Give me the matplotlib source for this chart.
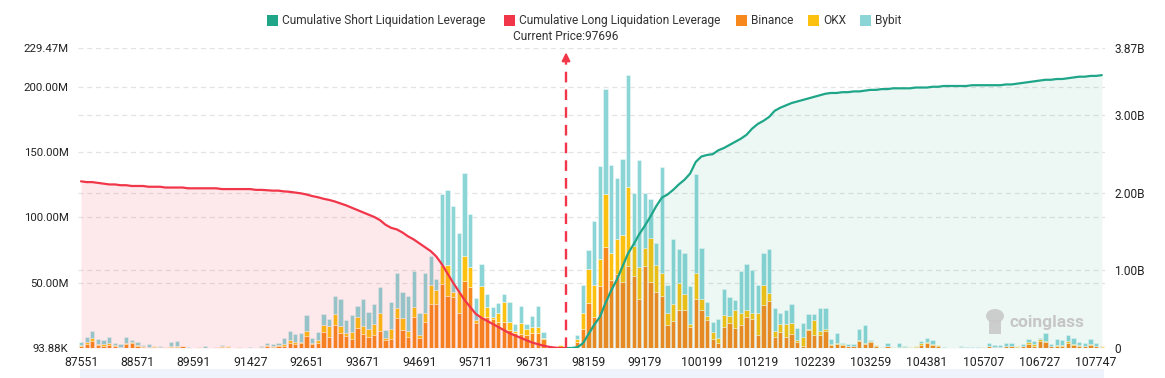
import matplotlib
matplotlib.use("Agg")
import matplotlib.pyplot as plt
from matplotlib.patches import Rectangle, Ellipse

plt.rcParams['font.family'] = ['Roboto', 'DejaVu Sans']

# ---------------- data ----------------
tick_labels = ["87551", "88571", "89591", "91427", "92651", "93671", "94691", "95711",
               "96731", "98159", "99179", "100199", "101219", "102239", "103259",
               "104381", "105707", "106727", "107747"]
current_price = 97696
current_index = 86

# liquidation per price bin, millions USD
binance = [1.5, 3.3, 5.4, 2.3, 2.0, 2.6, 2.0, 0.8, 3.1, 4.1,
           1.5, 1.0, 0.5, 1.0, 0.8, 0.7, 1.0, 1.0, 1.8, 0.3,
           0.1, 0.5, 0.2, 0.1, 0.7, 1.0, 1.0, 0.1, 0.5, 0.1,
           0.2, 0.05, 0.3, 2.0, 1.0, 2.0, 1.8, 4.1, 2.8, 3.6,
           9.4, 3.3, 4.1, 12.5, 8.7, 17.9, 11.7, 9.4, 6.6, 15.6,
           11.0, 8.7, 9.9, 13.3, 6.1, 6.6, 23.0, 13.8, 8.7, 24.0,
           7.4, 20.2, 33.4, 33.7, 49.0, 39.8, 39.3, 27.0, 51.3, 46.9,
           18.9, 24.0, 24.0, 21.9, 20.2, 20.2, 13.8, 11.2, 10.7, 9.9,
           11.7, 11.7, 6.6, 0.8, 0.3, 1.0, 0.0, 0.0, 4.6, 14.8,
           34.2, 24.0, 47.4, 77.3, 52.0, 56.4, 50.5, 62.8, 55.0, 37.2,
           62.8, 50.5, 42.9, 39.8, 18.0, 20.7, 29.0, 29.0, 16.0, 37.2,
           29.0, 21.4, 7.0, 3.6, 16.0, 18.9, 15.6, 18.0, 24.0, 22.0,
           9.7, 32.9, 36.0, 8.4, 12.2, 8.4, 10.5, 4.6, 1.5, 13.8,
           10.0, 10.0, 13.0, 2.3, 2.8, 2.3, 1.5, 1.5, 5.1, 3.3,
           4.8, 2.0, 0.8, 1.5, 0.5, 0.3, 0.4, 0.3, 1.2, 2.3,
           4.1, 2.3, 1.8, 0.2, 0.1, 0.1, 0.8, 0.2, 0.1, 0.1,
           0.8, 1.3, 0.5, 0.5, 1.5, 1.5, 1.0, 1.3, 3.3, 2.0,
           5.1, 4.3, 1.5, 1.8, 2.0, 3.8, 2.3, 1.5, 1.5, 2.3,
           1.5, 1.0]
okx = [1.0, 1.3, 2.0, 1.0, 0.8, 1.5, 0.5, 0.2, 1.0, 0.8,
       0.8, 0.3, 0.3, 0.3, 0.3, 0.1, 0.5, 0.4, 0.2, 0.1,
       0.0, 0.1, 0.1, 0.05, 0.4, 0.3, 0.4, 0.05, 0.1, 0.05,
       0.2, 0.05, 0.2, 0.3, 0.5, 0.5, 1.0, 2.0, 2.0, 1.3,
       3.6, 0.8, 2.0, 5.4, 8.4, 8.2, 5.1, 1.8, 6.1, 7.9,
       6.1, 5.6, 8.9, 13.3, 1.8, 7.7, 7.9, 8.9, 4.1, 7.7,
       2.6, 6.4, 14.8, 10.9, 14.5, 23.7, 3.8, 16.1, 19.4, 14.8,
       2.6, 23.7, 7.7, 2.0, 6.9, 14.8, 6.4, 2.0, 8.2, 4.6,
       4.1, 4.1, 1.5, 0.5, 0.6, 1.5, 0.0, 0.0, 2.6, 12.2,
       26.0, 24.2, 21.0, 40.3, 21.0, 26.8, 36.0, 60.7, 23.0, 25.0,
       14.0, 34.0, 20.7, 17.3, 9.0, 12.8, 21.0, 12.0, 2.8, 20.4,
       8.7, 3.0, 5.0, 4.0, 9.0, 5.6, 13.5, 9.0, 5.0, 5.0,
       16.8, 15.0, 6.4, 4.6, 5.9, 9.7, 8.4, 1.3, 6.9, 1.0,
       11.5, 3.0, 1.8, 1.0, 0.8, 0.8, 0.3, 0.2, 0.8, 0.8,
       0.5, 0.3, 0.2, 0.5, 0.2, 0.3, 0.3, 0.2, 0.6, 1.3,
       0.8, 0.5, 0.3, 0.1, 0.1, 0.1, 0.2, 0.2, 0.2, 0.1,
       0.1, 0.3, 0.3, 0.3, 0.3, 0.5, 0.3, 0.5, 1.5, 1.0,
       2.0, 0.8, 0.3, 0.5, 0.5, 1.3, 1.0, 0.8, 0.5, 0.8,
       0.3, 0.3]
bybit = [2.3, 3.8, 5.6, 3.3, 3.1, 4.3, 1.5, 2.1, 4.1, 1.0,
         2.6, 1.3, 2.0, 0.7, 0.5, 0.0, 2.8, 3.7, 0.0, 0.1,
         0.1, 0.0, 1.1, 0.05, 0.1, 1.3, 0.4, 0.1, 0.1, 0.1,
         0.7, 0.05, 1.5, 1.8, 1.6, 1.3, 4.6, 7.1, 5.9, 6.9,
         12.0, 3.3, 6.4, 7.9, 4.8, 13.8, 20.4, 10.2, 13.0, 8.7,
         20.4, 13.3, 15.3, 20.4, 6.1, 20.7, 26.3, 20.4, 26.8, 27.3,
         16.8, 30.9, 22.4, 8.2, 54.3, 57.4, 65.6, 45.2, 63.0, 40.6,
         17.1, 16.3, 9.4, 7.7, 7.7, 6.1, 14.8, 5.1, 13.3, 4.3,
         8.9, 16.3, 4.3, 0.2, 0.0, 0.0, 0.0, 0.0, 2.6, 21.0,
         14.8, 48.7, 71.0, 80.9, 67.3, 47.0, 58.4, 85.2, 40.8, 81.6,
         42.0, 29.8, 17.0, 81.6, 21.0, 50.3, 25.5, 31.4, 28.6, 75.3,
         38.5, 10.7, 7.7, 14.3, 20.4, 14.8, 7.7, 32.0, 35.0, 32.7,
         21.4, 24.5, 33.2, 17.9, 8.9, 10.7, 15.0, 9.7, 10.5, 11.0,
         4.3, 17.9, 16.0, 3.8, 7.6, 0.7, 1.5, 1.1, 8.9, 13.2,
         0.8, 0.2, 0.0, 1.6, 0.1, 3.0, 0.8, 0.3, 0.2, 1.5,
         3.0, 3.1, 0.2, 0.2, 0.1, 0.2, 0.3, 0.1, 0.2, 0.3,
         0.1, 2.5, 1.5, 1.5, 1.8, 1.8, 0.2, 1.5, 2.3, 2.4,
         0.8, 6.6, 1.5, 4.3, 3.6, 4.6, 4.1, 2.3, 2.1, 3.5,
         1.8, 0.7]

# cumulative leverage, billions USD
long_cum = [2.15, 2.14, 2.14, 2.13, 2.12, 2.11, 2.11, 2.10, 2.10, 2.09,
            2.09, 2.09, 2.08, 2.08, 2.08, 2.07, 2.07, 2.07, 2.07, 2.06,
            2.06, 2.06, 2.06, 2.06, 2.06, 2.05, 2.05, 2.05, 2.05, 2.05,
            2.05, 2.04, 2.04, 2.035, 2.03, 2.03, 2.02, 2.015, 2.005, 1.995,
            1.98, 1.96, 1.945, 1.925, 1.91, 1.89, 1.865, 1.84, 1.81, 1.78,
            1.75, 1.72, 1.69, 1.65, 1.59, 1.55, 1.53, 1.49, 1.44, 1.40,
            1.35, 1.30, 1.25, 1.18, 1.08, 0.96, 0.84, 0.73, 0.62, 0.53,
            0.44, 0.39, 0.35, 0.31, 0.27, 0.23, 0.19, 0.16, 0.13, 0.10,
            0.07, 0.05, 0.03, 0.015, 0.005, 0.0, 0.0]
short_cum = [0.0, 0.0, 0.01, 0.06,
             0.18, 0.30, 0.40, 0.58, 0.74, 0.88, 1.05, 1.22, 1.34, 1.47,
             1.58, 1.70, 1.83, 1.94, 1.98, 2.04, 2.11, 2.17, 2.25, 2.40,
             2.47, 2.49, 2.50, 2.55, 2.58, 2.62, 2.66, 2.70, 2.75, 2.83,
             2.89, 2.93, 2.98, 3.06, 3.10, 3.13, 3.16, 3.18, 3.20, 3.22,
             3.24, 3.26, 3.28, 3.29, 3.29, 3.30, 3.30, 3.31, 3.31, 3.32,
             3.33, 3.33, 3.34, 3.34, 3.35, 3.35, 3.35, 3.35, 3.36, 3.36,
             3.36, 3.37, 3.37, 3.38, 3.38, 3.38, 3.38, 3.38, 3.39, 3.39,
             3.39, 3.39, 3.39, 3.39, 3.40, 3.40, 3.41, 3.42, 3.43, 3.44,
             3.45, 3.46, 3.46, 3.47, 3.47, 3.48, 3.49, 3.50, 3.50, 3.51,
             3.51, 3.52]

left_ticks = [0.09388, 50, 100, 150, 200, 229.47]
left_tick_labels = ["93.88K", "50.00M", "100.00M", "150.00M", "200.00M", "229.47M"]
right_ticks = [0, 1, 2, 3, 3.87]
right_tick_labels = ["0", "1.00B", "2.00B", "3.00B", "3.87B"]

# ---------------- style ----------------
C_SHORT = "#1fa688"
C_LONG = "#f2364a"
C_BIN = "#f7891c"
C_OKX = "#fcc10f"
C_BYB = "#8bd5d7"
TXT = "#333333"

W, H = 1165, 378
fig = plt.figure(figsize=(W / 100, H / 100), dpi=100)
x0, x1, ytop, ybot = 78.2, 1104.6, 48, 348
ax = fig.add_axes([x0 / W, (H - ybot) / H, (x1 - x0) / W, (ybot - ytop) / H])
ax2 = ax.twinx()

n = len(binance)
xs = list(range(n))
ax.set_xlim(-0.5, n - 0.5)
lmin, lmax = left_ticks[0], left_ticks[-1]
rmax = right_ticks[-1]
ax.set_ylim(lmin, lmax)
ax2.set_ylim(0, rmax)

# grid lines (both axes) behind bars
for v in left_ticks[1:]:
    ax.axhline(v, color="#e3e3e3", lw=0.9, ls=(0, (4, 3)), zorder=0)
for v in right_ticks[1:-1]:
    ax.axhline(lmin + v * (lmax - lmin) / rmax, color="#e3e3e3", lw=0.9, ls=(0, (4, 3)), zorder=0)

bw = 0.76
ec = (1, 1, 1, 0.55)
bot2 = [a + b for a, b in zip(binance, okx)]
ax.bar(xs, binance, width=bw, color=C_BIN, edgecolor=ec, linewidth=0.5, zorder=2)
ax.bar(xs, okx, bottom=binance, width=bw, color=C_OKX, edgecolor=ec, linewidth=0.5, zorder=2)
ax.bar(xs, bybit, bottom=bot2, width=bw, color=C_BYB, edgecolor=ec, linewidth=0.5, zorder=2)

# cumulative lines with filled areas
lx = list(range(len(long_cum)))
sx = list(range(current_index, current_index + len(short_cum)))
ax2.fill_between(lx, long_cum, 0, color=C_LONG, alpha=0.11, lw=0, zorder=1)
ax2.fill_between(sx, short_cum, 0, color=C_SHORT, alpha=0.08, lw=0, zorder=1)
ax2.plot(lx, long_cum, color=C_LONG, lw=1.6, zorder=3, solid_capstyle="round")
ax2.plot(sx, short_cum, color=C_SHORT, lw=1.6, zorder=3, solid_capstyle="round")

# current price marker
ax2.plot([current_index, current_index], [0, 3.72], color=C_LONG, lw=1.7,
         ls=(0, (4.5, 3)), zorder=4)
ax2.annotate("", xy=(current_index, 3.85), xytext=(current_index, 3.70),
             arrowprops=dict(arrowstyle="-|>", color=C_LONG, lw=1.5, mutation_scale=12),
             zorder=4)
fig.text(566 / W, 1 - 37 / H, "Current Price:%d" % current_price, ha="center", va="center",
         fontsize=8.6, color=TXT)

# axes styling
for a in (ax, ax2):
    for s in a.spines.values():
        s.set_visible(False)
    a.tick_params(length=0, labelsize=8.8, labelcolor="#222222")
ax.set_xticks(list(range(0, n, 10)))
ax.set_xticklabels(tick_labels)
ax.tick_params(axis="x", pad=6)
ax.set_yticks(left_ticks)
ax.set_yticklabels(left_tick_labels)
ax.tick_params(axis="y", pad=7, labelsize=8.2)
ax2.set_yticks(right_ticks)
ax2.set_yticklabels(right_tick_labels)
ax2.tick_params(axis="y", pad=7, labelsize=8.6)

# legend (manual, centred row)
legend_items = [("Cumulative Short Liquidation Leverage", C_SHORT, 267),
                ("Cumulative Long Liquidation Leverage", C_LONG, 504),
                ("Binance", C_BIN, 736),
                ("OKX", C_OKX, 808),
                ("Bybit", C_BYB, 860)]
for label, col, px in legend_items:
    fig.patches.append(Rectangle((px / W, 1 - 26 / H), 10.5 / W, 10.5 / H, transform=fig.transFigure,
                                 facecolor=col, edgecolor="none"))
    fig.text((px + 15) / W, 1 - 20.5 / H, label, ha="left", va="center", fontsize=8.6, color=TXT)

# bottom slider band
fig.patches.append(Rectangle((80 / W, 0), (1104 - 80) / W, 9 / H, transform=fig.transFigure,
                             facecolor="#eef3fc", edgecolor="none"))

# watermark
fig.patches.append(Ellipse((995 / W, 1 - 316 / H), 18 / W, 14 / H, transform=fig.transFigure,
                           facecolor="#c9c9c9", edgecolor="none", alpha=0.9))
fig.patches.append(Rectangle((989 / W, 1 - 334 / H), 12 / W, 14 / H, transform=fig.transFigure,
                             facecolor="#c9c9c9", edgecolor="none", alpha=0.9))
fig.text(1010 / W, 1 - 322 / H, "coinglass", ha="left", va="center", fontsize=12.5,
         fontweight="bold", color="#c6c6c6")

fig.savefig("out.png", dpi=100)
